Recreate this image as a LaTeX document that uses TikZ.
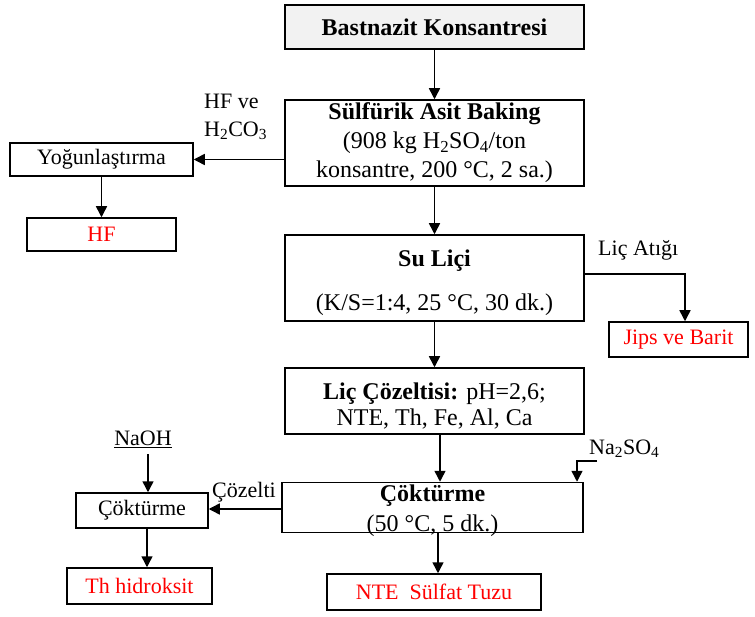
\documentclass[tikz,border=0pt]{standalone}
\usepackage{fontspec}
\setmainfont{Liberation Serif}
\usetikzlibrary{arrows.meta}
\definecolor{boxgray}{HTML}{F2F2F2}
\begin{document}
\begin{tikzpicture}[x=1pt,y=-1pt,
  txt/.style={font=\fontsize{22}{28}\selectfont},
  bigtxt/.style={font=\fontsize{24}{29}\selectfont},
  box/.style={txt,draw,line width=1.5pt,inner sep=0pt,align=center},
  mainbox/.style={box,bigtxt},
  boxtext/.style={bigtxt,inner sep=0pt,align=center},
  lbl/.style={txt,inner sep=0pt,align=left},
  redtxt/.style={text=red},
  arr/.style={line width=1.5pt,-{Triangle[length=11pt,width=11pt]}}]
\useasboundingbox (0,0) rectangle (755,617);

% main column
\node[mainbox,fill=boxgray,minimum width=299pt,minimum height=44pt] (bast) at (434.5,27)
  {\textbf{Bastnazit Konsantresi}};
\node[mainbox,minimum width=299pt,minimum height=86pt] (baking) at (434.5,143)
  {\textbf{Sülfürik Asit Baking}\\(908 kg H\textsubscript{2}SO\textsubscript{4}/ton\\konsantre, 200 °C, 2 sa.)};
\node[mainbox,minimum width=299pt,minimum height=86pt] (suli) at (434.5,278) {};
\node[boxtext] (sulitxt) at (434.5,283)
  {\textbf{Su Liçi}\\[15pt](K/S=1:4, 25 °C, 30 dk.)};
\node[mainbox,minimum width=299pt,minimum height=66pt] (cozel) at (434.5,401) {};
\node[boxtext] (cozeltxt) at (434.5,406)
  {\textbf{Liç Çözeltisi:} pH=2,6;\\[-3pt]NTE, Th, Fe, Al, Ca};
\node[mainbox,minimum width=301pt,minimum height=50pt] (cokt) at (432.5,507.5) {};
\node[boxtext] (cokttxt) at (432.5,511)
  {\textbf{Çöktürme}\\[1pt](50 °C, 5 dk.)};
\node[box,redtxt,minimum width=214pt,minimum height=36pt] (nte) at (434,592)
  {NTE\ \ Sülfat Tuzu};

% side branches
\node[box,minimum width=183pt,minimum height=33pt] (yog) at (101.5,159.5) {Yoğunlaştırma};
\node[box,redtxt,minimum width=149pt,minimum height=33pt] (hf) at (101.5,234.5) {HF};
\node[box,redtxt,minimum width=139pt,minimum height=35pt] (jips) at (678.5,339.5) {Jips ve Barit};
\node[box,minimum width=132pt,minimum height=35pt] (smcok) at (142,510.5) {Çöktürme};
\node[box,redtxt,minimum width=145pt,minimum height=36pt] (thh) at (139.5,586) {Th hidroksit};

% labels
\node[lbl,anchor=west,align=left] (hfve) at (204,117) {HF ve\\H\textsubscript{2}CO\textsubscript{3}};
\node[lbl,anchor=west] (atik) at (598,250) {Liç Atığı};
\node[lbl,anchor=west] (cozelti) at (212,492) {Çözelti};
\node[lbl] (naoh) at (143,439) {\underline{NaOH}};
\node[lbl,anchor=west] (naso) at (589,449) {Na\textsubscript{2}SO\textsubscript{4}};

% connectors
\draw[arr] (bast.south) -- (baking.north);
\draw[arr] (baking.west |- yog.east) -- (yog.east);
\draw[arr] (yog.south) -- (hf.north);
\draw[arr] (baking.south) -- (suli.north);
\draw[arr] (suli.east |- 0,274) -| ([xshift=6.5pt]jips.north);
\draw[arr] (suli.south) -- (cozel.north);
\draw[arr] ([xshift=5.5pt]cozel.south) -- ([xshift=5.5pt]cozel.south |- cokt.north);
\coordinate (nasoend) at (597,461);
\coordinate (nasoturn) at (577,461);
\draw[arr] (nasoend) -- (nasoturn) -- (nasoturn |- cokt.north);
\draw[arr] (cokt.west |- 0,509) -- (smcok.east |- 0,509);
\draw[arr] ([xshift=5.5pt]cokt.south) -- ([xshift=5.5pt]cokt.south |- nte.north);
\coordinate (naohstart) at (148,454);
\draw[arr] (naohstart) -- (naohstart |- smcok.north);
\coordinate (thx) at (147,0);
\draw[arr] (thx |- smcok.south) -- (thx |- thh.north);
\end{tikzpicture}
\end{document}
